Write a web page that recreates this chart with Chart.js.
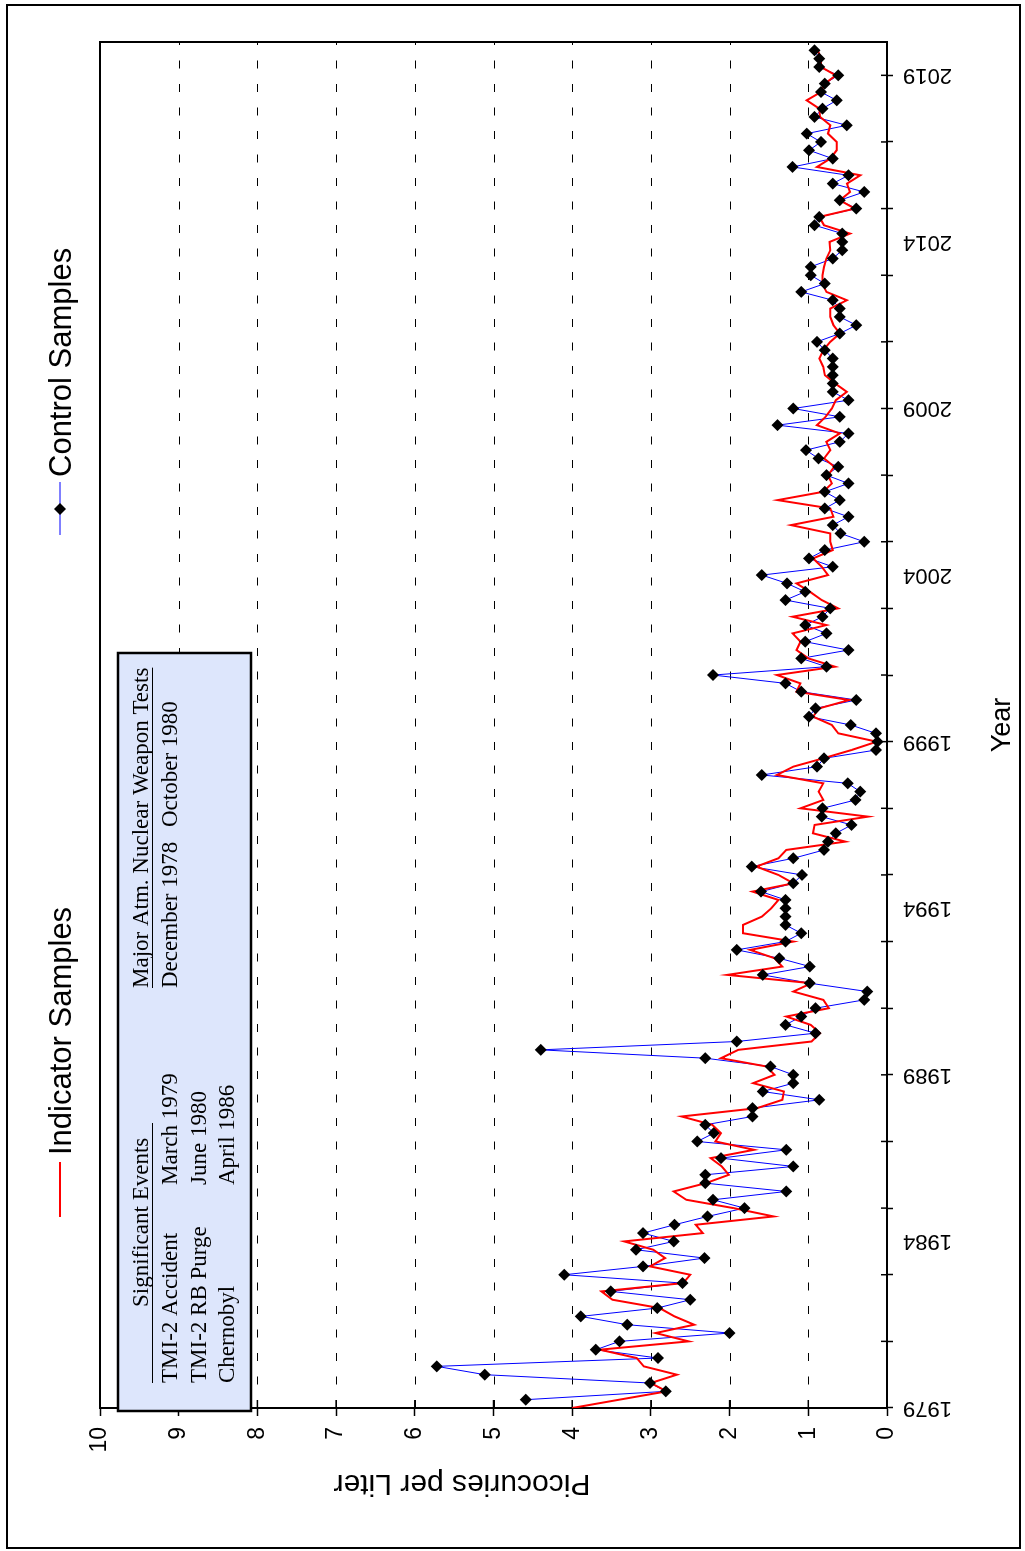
<!DOCTYPE html>
<html>
<head>
<meta charset="utf-8">
<script src="https://cdn.jsdelivr.net/npm/chart.js@4.4.1/dist/chart.umd.min.js"></script>
<style>
  html, body { margin: 0; padding: 0; background: #fff; overflow: hidden; }
  /* chart is drawn landscape and turned a quarter turn, like the printed page */
  #wrap { position: absolute; left: -263px; top: 263px; width: 1551px; height: 1025px;
          transform: rotate(-90deg); transform-origin: 50% 50%; }
</style>
</head>
<body>
<div id="wrap"><canvas id="myChart" width="1551" height="1025"></canvas></div>
<script>
// quarterly samples, first one at the start of 1979
const startYear = 1979;

const indicatorValues = [
  4.0, 3.4, 2.8, 3.0, 2.67, 3.09, 3.18, 3.65, 2.52, 2.94,
  2.45, 2.7, 2.89, 3.49, 3.63, 2.59, 2.5, 3.01, 2.82, 2.97,
  3.34, 2.34, 2.43, 1.44, 1.95, 2.55, 2.71, 2.3, 2.01, 2.1,
  2.24, 1.69, 2.18, 2.11, 2.22, 2.61, 1.65, 1.33, 1.31, 1.7,
  1.43, 1.53, 2.11, 1.89, 0.96, 0.85, 0.97, 1.28, 0.74, 0.81,
  1.19, 0.96, 2.03, 1.33, 1.43, 1.74, 1.19, 1.83, 1.83, 1.59,
  1.47, 1.38, 1.71, 1.19, 1.38, 1.66, 1.38, 1.28, 0.53, 0.94,
  0.92, 0.24, 1.1, 0.81, 0.87, 0.81, 1.4, 1.19, 0.81, 0.45,
  0.13, 0.62, 0.7, 0.94, 0.86, 0.48, 1.15, 1.1, 1.4, 0.66,
  1.0, 1.15, 1.1, 1.2, 0.77, 1.2, 0.62, 0.83, 0.98, 1.15,
  0.75, 0.83, 0.94, 0.69, 0.72, 0.72, 1.22, 0.68, 0.72, 1.39,
  0.81, 0.7, 0.75, 0.67, 0.8, 0.72, 0.77, 0.6, 0.89, 0.78,
  0.7, 0.65, 0.51, 0.66, 0.79, 0.81, 0.86, 0.81, 0.72, 0.6,
  0.68, 0.72, 0.72, 0.51, 0.77, 0.82, 0.82, 0.8, 0.77, 0.72,
  0.73, 0.47, 0.8, 0.86, 0.41, 0.6, 0.47, 0.51, 0.34, 0.89,
  0.72, 0.64, 0.64, 0.75, 0.72, 0.85, 0.86, 1.02, 0.84, 0.79,
  0.65, 0.84, 0.84, 0.88
];

const controlValues = [
  null, 4.59, 2.81, 3.01, 5.11, 5.72, 2.91, 3.7, 3.4, 2.0,
  3.3, 3.89, 2.92, 2.5, 3.51, 2.6, 4.1, 3.1, 2.32, 3.19,
  2.71, 3.1, 2.7, 2.28, 1.81, 2.21, 1.28, 2.31, 2.31, 1.19,
  2.11, 1.28, 2.41, 2.2, 2.31, 1.71, 1.71, 0.86, 1.58, 1.19,
  1.19, 1.48, 2.31, 4.4, 1.91, 0.91, 1.29, 1.09, 0.91, 0.29,
  0.25, 0.98, 1.58, 0.98, 1.37, 1.91, 1.29, 1.09, 1.29, 1.29,
  1.29, 1.29, 1.6, 1.19, 1.08, 1.72, 1.19, 0.8, 0.75, 0.65,
  0.45, 0.83, 0.82, 0.4, 0.34, 0.5, 1.59, 0.89, 0.8, 0.14,
  0.12, 0.14, 0.46, 0.99, 0.91, 0.39, 1.09, 1.29, 2.21, 0.77,
  1.09, 0.49, 1.04, 0.77, 1.04, 0.82, 0.72, 1.29, 1.04, 1.27,
  1.59, 0.69, 0.99, 0.79, 0.29, 0.59, 0.69, 0.49, 0.79, 0.6,
  0.79, 0.49, 0.77, 0.62, 0.87, 1.03, 0.6, 0.49, 1.39, 0.6,
  1.19, 0.49, 0.69, 0.69, 0.69, 0.69, 0.69, 0.79, 0.89, 0.6,
  0.39, 0.6, 0.6, 0.69, 1.09, 0.79, 0.97, 0.97, 0.69, 0.57,
  0.57, 0.57, 0.92, 0.86, 0.39, 0.6, 0.29, 0.69, 0.49, 1.2,
  0.69, 0.99, 0.84, 1.02, 0.51, 0.92, 0.82, 0.64, 0.84, 0.79,
  0.62, 0.86, 0.86, 0.92
];

const labelYears = [1979, 1984, 1989, 1994, 1999, 2004, 2009, 2014, 2019];
const tickMarkYears = [1979, 1981, 1983, 1985, 1987, 1989, 1991, 1993, 1995, 1997, 1999,
                       2001, 2003, 2005, 2007, 2009, 2011, 2013, 2015, 2017, 2019];
const valueTicks = [0, 1, 2, 3, 4, 5, 6, 7, 8, 9, 10];
const dashedValues = [1, 2, 3, 4, 5, 6, 7, 8, 9];

const events = [
  ["TMI-2 Accident", "March 1979"],
  ["TMI-2 RB Purge", "June 1980"],
  ["Chernobyl", "April 1986"]
];
const weaponTests = ["December 1978", "October 1980"];

const sans = "'Liberation Sans', Arial, sans-serif";
const serif = "'Liberation Serif', 'Times New Roman', serif";

const toPoints = vals => vals.map((v, i) => ({ x: startYear + i / 4, y: v }));
const allYearTicks = [...new Set([...tickMarkYears, ...labelYears])].sort((a, b) => a - b);

const sketch = {
  id: 'sketch',
  beforeDatasetsDraw(chart) {
    const { ctx, chartArea: a, scales: { x, y } } = chart;
    ctx.save();
    ctx.strokeStyle = '#000';
    ctx.lineWidth = 1;
    ctx.setLineDash([8, 15.5]);
    dashedValues.forEach(v => {
      const py = Math.round(y.getPixelForValue(v)) + 0.5;
      ctx.beginPath(); ctx.moveTo(a.left, py); ctx.lineTo(a.right, py); ctx.stroke();
    });
    ctx.setLineDash([]);
    ctx.lineWidth = 1.5;
    valueTicks.forEach(v => {
      const py = y.getPixelForValue(v);
      ctx.beginPath(); ctx.moveTo(a.left, py); ctx.lineTo(a.left + 8, py); ctx.stroke();
    });
    tickMarkYears.forEach(yr => {
      const px = x.getPixelForValue(yr);
      ctx.beginPath(); ctx.moveTo(px, a.bottom); ctx.lineTo(px, a.bottom - 6); ctx.stroke();
    });
    ctx.lineWidth = 2;
    ctx.strokeRect(a.left, a.top, a.right - a.left, a.bottom - a.top);
    ctx.restore();
  },
  afterDraw(chart) {
    const { ctx, chartArea: a } = chart;
    ctx.save();
    ctx.fillStyle = '#000';

    // axis titles
    ctx.font = '30px ' + sans;
    ctx.textAlign = 'center';
    ctx.textBaseline = 'alphabetic';
    ctx.save();
    ctx.translate(76, 462);
    ctx.rotate(-Math.PI / 2);
    ctx.fillText('Picocuries per Liter', 0, 0);
    ctx.restore();
    ctx.font = '27px ' + sans;
    ctx.fillText('Year', (a.left + a.right) / 2, 1010);

    // legend
    ctx.textAlign = 'left';
    ctx.font = '31px ' + sans;
    ctx.strokeStyle = '#ff0000'; ctx.lineWidth = 2;
    ctx.beginPath(); ctx.moveTo(334, 60); ctx.lineTo(389, 60); ctx.stroke();
    ctx.fillText('Indicator Samples', 396, 71);
    ctx.strokeStyle = '#0000ff'; ctx.lineWidth = 1;
    ctx.beginPath(); ctx.moveTo(1016, 60); ctx.lineTo(1069, 60); ctx.stroke();
    ctx.beginPath();
    ctx.moveTo(1042 - 6, 60); ctx.lineTo(1042, 54); ctx.lineTo(1042 + 6, 60); ctx.lineTo(1042, 66);
    ctx.closePath(); ctx.fill();
    ctx.fillText('Control Samples', 1074, 71);

    // events box
    ctx.fillStyle = '#dde6fc';
    ctx.fillRect(140, 118, 758, 133);
    ctx.strokeStyle = '#000'; ctx.lineWidth = 2.5;
    ctx.strokeRect(140, 118, 758, 133);
    ctx.fillStyle = '#000';
    ctx.font = '23px ' + serif;
    ctx.fillText('Significant Events', 244, 148);
    ctx.fillText('Major Atm. Nuclear Weapon Tests', 563, 148);
    ctx.lineWidth = 1.2;
    ctx.beginPath(); ctx.moveTo(168, 152.5); ctx.lineTo(428, 152.5); ctx.stroke();
    const w = ctx.measureText('Major Atm. Nuclear Weapon Tests').width;
    ctx.beginPath(); ctx.moveTo(563, 152.5); ctx.lineTo(563 + w, 152.5); ctx.stroke();
    events.forEach((e, i) => {
      const by = 177 + i * 28.5;
      ctx.fillText(e[0], 168, by);
      ctx.fillText(e[1], 366, by);
    });
    ctx.fillText(weaponTests[0], 563, 177);
    ctx.fillText(weaponTests[1], 724, 177);

    // page frame
    ctx.lineWidth = 2;
    ctx.strokeRect(3, 7, 1543, 1013);
    ctx.restore();
  }
};

Chart.defaults.font.family = sans;
Chart.defaults.color = '#000';

new Chart("myChart", {
  type: "line",
  data: {
    datasets: [
      {
        label: "Control Samples",
        data: toPoints(controlValues),
        borderColor: "#0000ff",
        borderWidth: 1,
        pointRadius: 0,
        order: 3
      },
      {
        label: "Indicator Samples",
        data: toPoints(indicatorValues),
        borderColor: "#ff0000",
        borderWidth: 2,
        pointRadius: 0,
        order: 2
      },
      {
        label: "Control Samples markers",
        data: toPoints(controlValues),
        showLine: false,
        pointStyle: "rectRot",
        pointRadius: 6,
        backgroundColor: "#000",
        borderColor: "#000",
        borderWidth: 0,
        order: 1
      }
    ]
  },
  options: {
    responsive: false,
    animation: false,
    devicePixelRatio: 1,
    layout: { padding: { left: 0, right: 42, top: 100, bottom: 0 } },
    plugins: { legend: { display: false }, tooltip: { enabled: false } },
    scales: {
      x: {
        type: "linear",
        min: 1979,
        max: 2020,
        afterBuildTicks: s => { s.ticks = allYearTicks.map(v => ({ value: v })); },
        afterFit: s => { s.height = 138; },
        ticks: {
          autoSkip: false,
          minRotation: 90,
          maxRotation: 90,
          padding: 10,
          font: { size: 22 },
          color: "#000",
          callback: v => labelYears.includes(v) ? String(v) : ""
        },
        grid: {
          drawOnChartArea: false,
          tickLength: 6,
          tickWidth: 1.5,
          tickColor: c => (c.tick && tickMarkYears.includes(c.tick.value)) ? "#000" : "rgba(0,0,0,0)"
        },
        border: { color: "#000", width: 2 }
      },
      y: {
        min: 0,
        max: 10,
        afterBuildTicks: s => { s.ticks = valueTicks.map(v => ({ value: v })); },
        afterFit: s => { s.width = 143; },
        ticks: { padding: 11, font: { size: 23 }, color: "#000" },
        grid: { drawOnChartArea: false, tickLength: 8, tickWidth: 1.5, tickColor: "#000" },
        border: { color: "#000", width: 2 }
      }
    }
  },
  plugins: [sketch]
});
</script>
</body>
</html>
